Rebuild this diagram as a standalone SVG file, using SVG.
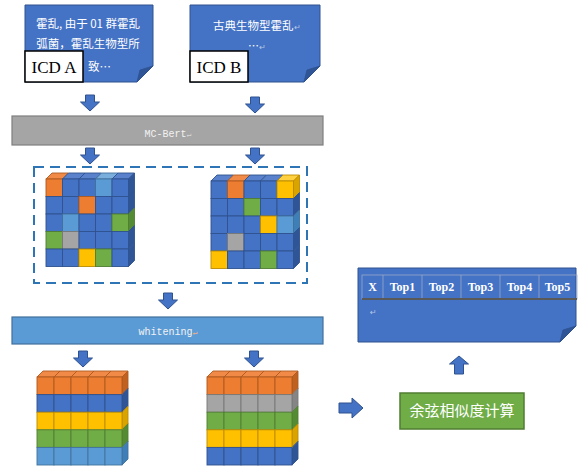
<svg xmlns="http://www.w3.org/2000/svg" xmlns:xlink="http://www.w3.org/1999/xlink" width="586" height="472" viewBox="0 0 586 472">
<style>
.note{fill:#4472c4;stroke:#2f528f;stroke-width:1}
.fold{fill:#2f5597;stroke:#2f528f;stroke-width:0.8}
.lbl{fill:#fff;stroke:#000;stroke-width:1.5}
.cn{font-family:"Noto Sans CJK SC","Noto Sans",sans-serif;fill:#fff}
.ser{font-family:"Liberation Serif","DejaVu Serif",serif}
.mono{font-family:"Liberation Mono","DejaVu Sans Mono",monospace;fill:#f2f2f2}
.rm{fill:#b4c7e7;font-size:8px}
.arr{fill:#4472c4;stroke:#2f528f;stroke-width:1}
.c rect,.c polygon{stroke-width:0.9}
.o{fill:#ed7d31;stroke:#ae5a21}.ot{fill:#f08a46;stroke:#ae5a21}.os{fill:#c0611f;stroke:#ae5a21}
.b{fill:#4472c4;stroke:#2f528f}.bt{fill:#5a82cc;stroke:#2f528f}.bs{fill:#2f5597;stroke:#2f528f}
.l{fill:#5b9bd5;stroke:#41719c}.lt{fill:#7aaedc;stroke:#41719c}.ls{fill:#3f7fb8;stroke:#41719c}
.g{fill:#70ad47;stroke:#507e32}.gt{fill:#84bb60;stroke:#507e32}.gs{fill:#548c33;stroke:#507e32}
.a{fill:#a5a5a5;stroke:#787878}.at{fill:#b8b8b8;stroke:#787878}.as{fill:#858585;stroke:#787878}
.y{fill:#ffc000;stroke:#bc8c00}.yt{fill:#ffd040;stroke:#bc8c00}.ys{fill:#d9a300;stroke:#bc8c00}
.tl{stroke:#9aa9c9;stroke-width:0.8;fill:none}
</style>
<defs>
<path id="ad" class="arr" d="M-4.5,0 H4.5 V7 H9.5 L0,16 L-9.5,7 H-4.5 Z"/>
</defs>

<g id="icdA">
<path class="note" d="M25,5 H153 V66 L137,82 H25 Z"/>
<path class="fold" d="M153,66 L137,82 L140,70 Z"/>
<text class="cn" x="88" y="28" font-size="11.5" text-anchor="middle">霍乱, 由于 01 群霍乱</text>
<text class="cn" x="88" y="48" font-size="11.5" text-anchor="middle">弧菌，霍乱生物型所</text>
<text class="cn" x="88" y="71" font-size="11.5">致…</text>
<rect class="lbl" x="25" y="51" width="58" height="31"/>
<text class="ser" x="54" y="73" font-size="17" text-anchor="middle" fill="#000">ICD A</text>
</g>

<g id="icdB">
<path class="note" d="M190,5 H320 V66 L304,82 H190 Z"/>
<path class="fold" d="M320,66 L304,82 L307,70 Z"/>
<text class="cn" x="213" y="30" font-size="11.5">古典生物型霍乱<tspan class="rm">↵</tspan></text>
<text class="cn" x="248" y="50" font-size="11">…<tspan class="rm">↵</tspan></text>
<rect class="lbl" x="190" y="51" width="58" height="31"/>
<text class="ser" x="219" y="73" font-size="17" text-anchor="middle" fill="#000">ICD B</text>
</g>

<g id="mcbert">
<rect x="12" y="116" width="311" height="29" fill="#a5a5a5" stroke="#7f7f7f" stroke-width="1.2"/>
<text class="mono" x="168" y="137" font-size="10" text-anchor="middle">MC-Bert<tspan fill="#d9d9d9" font-size="8">↵</tspan></text>
</g>

<g id="embeddings">
<rect x="34" y="167" width="273" height="116" fill="none" stroke="#2e75b6" stroke-width="2" stroke-dasharray="10,6"/>
<g id="cubeA" class="c" transform="translate(46,179)">
<polygon class="ot" points="0,0 16.5,0 22.5,-6 6,-6"/>
<polygon class="bt" points="16.5,0 33,0 39,-6 22.5,-6"/>
<polygon class="bt" points="33,0 49.5,0 55.5,-6 39,-6"/>
<polygon class="lt" points="49.5,0 66,0 72,-6 55.5,-6"/>
<polygon class="bt" points="66,0 82.5,0 88.5,-6 72,-6"/>
<polygon class="bs" points="82.5,0 88.5,-6 88.5,11.5 82.5,17.5"/>
<polygon class="bs" points="82.5,17.5 88.5,11.5 88.5,29 82.5,35"/>
<polygon class="gs" points="82.5,35 88.5,29 88.5,46.5 82.5,52.5"/>
<polygon class="bs" points="82.5,52.5 88.5,46.5 88.5,64 82.5,70"/>
<polygon class="bs" points="82.5,70 88.5,64 88.5,81.5 82.5,87.5"/>
<rect class="o" x="0" y="0" width="16.5" height="17.5"/><rect class="b" x="16.5" y="0" width="16.5" height="17.5"/><rect class="b" x="33" y="0" width="16.5" height="17.5"/><rect class="l" x="49.5" y="0" width="16.5" height="17.5"/><rect class="b" x="66" y="0" width="16.5" height="17.5"/>
<rect class="b" x="0" y="17.5" width="16.5" height="17.5"/><rect class="b" x="16.5" y="17.5" width="16.5" height="17.5"/><rect class="o" x="33" y="17.5" width="16.5" height="17.5"/><rect class="b" x="49.5" y="17.5" width="16.5" height="17.5"/><rect class="b" x="66" y="17.5" width="16.5" height="17.5"/>
<rect class="b" x="0" y="35" width="16.5" height="17.5"/><rect class="l" x="16.5" y="35" width="16.5" height="17.5"/><rect class="b" x="33" y="35" width="16.5" height="17.5"/><rect class="b" x="49.5" y="35" width="16.5" height="17.5"/><rect class="g" x="66" y="35" width="16.5" height="17.5"/>
<rect class="g" x="0" y="52.5" width="16.5" height="17.5"/><rect class="a" x="16.5" y="52.5" width="16.5" height="17.5"/><rect class="b" x="33" y="52.5" width="16.5" height="17.5"/><rect class="b" x="49.5" y="52.5" width="16.5" height="17.5"/><rect class="b" x="66" y="52.5" width="16.5" height="17.5"/>
<rect class="b" x="0" y="70" width="16.5" height="17.5"/><rect class="b" x="16.5" y="70" width="16.5" height="17.5"/><rect class="y" x="33" y="70" width="16.5" height="17.5"/><rect class="g" x="49.5" y="70" width="16.5" height="17.5"/><rect class="b" x="66" y="70" width="16.5" height="17.5"/>
</g>
<g id="cubeB" class="c" transform="translate(211,181)">
<polygon class="bt" points="0,0 16.5,0 22.5,-6 6,-6"/>
<polygon class="ot" points="16.5,0 33,0 39,-6 22.5,-6"/>
<polygon class="bt" points="33,0 49.5,0 55.5,-6 39,-6"/>
<polygon class="bt" points="49.5,0 66,0 72,-6 55.5,-6"/>
<polygon class="yt" points="66,0 82.5,0 88.5,-6 72,-6"/>
<polygon class="ys" points="82.5,0 88.5,-6 88.5,11.5 82.5,17.5"/>
<polygon class="bs" points="82.5,17.5 88.5,11.5 88.5,29 82.5,35"/>
<polygon class="ls" points="82.5,35 88.5,29 88.5,46.5 82.5,52.5"/>
<polygon class="bs" points="82.5,52.5 88.5,46.5 88.5,64 82.5,70"/>
<polygon class="bs" points="82.5,70 88.5,64 88.5,81.5 82.5,87.5"/>
<rect class="b" x="0" y="0" width="16.5" height="17.5"/><rect class="o" x="16.5" y="0" width="16.5" height="17.5"/><rect class="b" x="33" y="0" width="16.5" height="17.5"/><rect class="b" x="49.5" y="0" width="16.5" height="17.5"/><rect class="y" x="66" y="0" width="16.5" height="17.5"/>
<rect class="b" x="0" y="17.5" width="16.5" height="17.5"/><rect class="b" x="16.5" y="17.5" width="16.5" height="17.5"/><rect class="g" x="33" y="17.5" width="16.5" height="17.5"/><rect class="b" x="49.5" y="17.5" width="16.5" height="17.5"/><rect class="b" x="66" y="17.5" width="16.5" height="17.5"/>
<rect class="b" x="0" y="35" width="16.5" height="17.5"/><rect class="b" x="16.5" y="35" width="16.5" height="17.5"/><rect class="b" x="33" y="35" width="16.5" height="17.5"/><rect class="y" x="49.5" y="35" width="16.5" height="17.5"/><rect class="l" x="66" y="35" width="16.5" height="17.5"/>
<rect class="b" x="0" y="52.5" width="16.5" height="17.5"/><rect class="a" x="16.5" y="52.5" width="16.5" height="17.5"/><rect class="b" x="33" y="52.5" width="16.5" height="17.5"/><rect class="b" x="49.5" y="52.5" width="16.5" height="17.5"/><rect class="b" x="66" y="52.5" width="16.5" height="17.5"/>
<rect class="y" x="0" y="70" width="16.5" height="17.5"/><rect class="b" x="16.5" y="70" width="16.5" height="17.5"/><rect class="b" x="33" y="70" width="16.5" height="17.5"/><rect class="g" x="49.5" y="70" width="16.5" height="17.5"/><rect class="b" x="66" y="70" width="16.5" height="17.5"/>
</g>
</g>

<g id="whitening">
<rect x="12" y="317" width="311" height="27" fill="#5b9bd5" stroke="#41719c" stroke-width="1.2"/>
<text class="mono" x="168" y="335" font-size="10" text-anchor="middle">whitening<tspan fill="#f4b183" font-size="8">↵</tspan></text>
</g>

<g id="stackA" class="c" transform="translate(37,377)">
<polygon class="ot" points="0,0 17,0 23,-6 6,-6"/><polygon class="ot" points="17,0 34,0 40,-6 23,-6"/><polygon class="ot" points="34,0 51,0 57,-6 40,-6"/><polygon class="ot" points="51,0 68,0 74,-6 57,-6"/><polygon class="ot" points="68,0 85,0 91,-6 74,-6"/>
<polygon class="os" points="85,0 91,-6 91,11.6 85,17.6"/>
<polygon class="bs" points="85,17.6 91,11.6 91,29.2 85,35.2"/>
<polygon class="ys" points="85,35.2 91,29.2 91,46.8 85,52.8"/>
<polygon class="gs" points="85,52.8 91,46.8 91,64.4 85,70.4"/>
<polygon class="ls" points="85,70.4 91,64.4 91,82 85,88"/>
<rect class="o" x="0" y="0" width="17" height="17.6"/><rect class="o" x="17" y="0" width="17" height="17.6"/><rect class="o" x="34" y="0" width="17" height="17.6"/><rect class="o" x="51" y="0" width="17" height="17.6"/><rect class="o" x="68" y="0" width="17" height="17.6"/>
<rect class="b" x="0" y="17.6" width="17" height="17.6"/><rect class="b" x="17" y="17.6" width="17" height="17.6"/><rect class="b" x="34" y="17.6" width="17" height="17.6"/><rect class="b" x="51" y="17.6" width="17" height="17.6"/><rect class="b" x="68" y="17.6" width="17" height="17.6"/>
<rect class="y" x="0" y="35.2" width="17" height="17.6"/><rect class="y" x="17" y="35.2" width="17" height="17.6"/><rect class="y" x="34" y="35.2" width="17" height="17.6"/><rect class="y" x="51" y="35.2" width="17" height="17.6"/><rect class="y" x="68" y="35.2" width="17" height="17.6"/>
<rect class="g" x="0" y="52.8" width="17" height="17.6"/><rect class="g" x="17" y="52.8" width="17" height="17.6"/><rect class="g" x="34" y="52.8" width="17" height="17.6"/><rect class="g" x="51" y="52.8" width="17" height="17.6"/><rect class="g" x="68" y="52.8" width="17" height="17.6"/>
<rect class="l" x="0" y="70.4" width="17" height="17.6"/><rect class="l" x="17" y="70.4" width="17" height="17.6"/><rect class="l" x="34" y="70.4" width="17" height="17.6"/><rect class="l" x="51" y="70.4" width="17" height="17.6"/><rect class="l" x="68" y="70.4" width="17" height="17.6"/>
</g>

<g id="stackB" class="c" transform="translate(207,377)">
<polygon class="ot" points="0,0 17,0 23,-6 6,-6"/><polygon class="ot" points="17,0 34,0 40,-6 23,-6"/><polygon class="ot" points="34,0 51,0 57,-6 40,-6"/><polygon class="ot" points="51,0 68,0 74,-6 57,-6"/><polygon class="ot" points="68,0 85,0 91,-6 74,-6"/>
<polygon class="os" points="85,0 91,-6 91,11.6 85,17.6"/>
<polygon class="as" points="85,17.6 91,11.6 91,29.2 85,35.2"/>
<polygon class="gs" points="85,35.2 91,29.2 91,46.8 85,52.8"/>
<polygon class="ys" points="85,52.8 91,46.8 91,64.4 85,70.4"/>
<polygon class="bs" points="85,70.4 91,64.4 91,82 85,88"/>
<rect class="o" x="0" y="0" width="17" height="17.6"/><rect class="o" x="17" y="0" width="17" height="17.6"/><rect class="o" x="34" y="0" width="17" height="17.6"/><rect class="o" x="51" y="0" width="17" height="17.6"/><rect class="o" x="68" y="0" width="17" height="17.6"/>
<rect class="a" x="0" y="17.6" width="17" height="17.6"/><rect class="a" x="17" y="17.6" width="17" height="17.6"/><rect class="a" x="34" y="17.6" width="17" height="17.6"/><rect class="a" x="51" y="17.6" width="17" height="17.6"/><rect class="a" x="68" y="17.6" width="17" height="17.6"/>
<rect class="g" x="0" y="35.2" width="17" height="17.6"/><rect class="g" x="17" y="35.2" width="17" height="17.6"/><rect class="g" x="34" y="35.2" width="17" height="17.6"/><rect class="g" x="51" y="35.2" width="17" height="17.6"/><rect class="g" x="68" y="35.2" width="17" height="17.6"/>
<rect class="y" x="0" y="52.8" width="17" height="17.6"/><rect class="y" x="17" y="52.8" width="17" height="17.6"/><rect class="y" x="34" y="52.8" width="17" height="17.6"/><rect class="y" x="51" y="52.8" width="17" height="17.6"/><rect class="y" x="68" y="52.8" width="17" height="17.6"/>
<rect class="b" x="0" y="70.4" width="17" height="17.6"/><rect class="b" x="17" y="70.4" width="17" height="17.6"/><rect class="b" x="34" y="70.4" width="17" height="17.6"/><rect class="b" x="51" y="70.4" width="17" height="17.6"/><rect class="b" x="68" y="70.4" width="17" height="17.6"/>
</g>

<g id="cosine">
<rect x="400" y="393" width="124" height="36" fill="#70ad47" stroke="#507e32" stroke-width="1.5"/>
<text class="cn" x="462" y="416" font-size="15" text-anchor="middle" fill="#f2f2f2">余弦相似度计算</text>
</g>

<g id="result">
<path class="note" d="M358,268 H576 V326 L560,342 H358 Z"/>
<path class="fold" d="M576,326 L560,342 L563,330 Z"/>
<rect x="362" y="275" width="215" height="24" class="tl"/>
<path class="tl" d="M383,275 V299 M422,275 V299 M461,275 V299 M500,275 V299 M539,275 V299"/>
<line x1="362" y1="299" x2="577" y2="299" stroke="#595959" stroke-width="2"/>
<g class="ser" font-size="12" fill="#fff" text-anchor="middle" font-weight="bold">
<text x="372.5" y="291">X</text>
<text x="402.5" y="291">Top1</text>
<text x="441.5" y="291">Top2</text>
<text x="480.5" y="291">Top3</text>
<text x="519.5" y="291">Top4</text>
<text x="557.5" y="291">Top5</text>
</g>
<text x="370" y="315" class="rm" font-family="DejaVu Sans,sans-serif">↵</text>
</g>

<g id="connectors">
<use xlink:href="#ad" x="90" y="95"/>
<use xlink:href="#ad" x="255" y="97"/>
<use xlink:href="#ad" x="90" y="148"/>
<use xlink:href="#ad" x="255" y="148"/>
<use xlink:href="#ad" x="168" y="293"/>
<use xlink:href="#ad" x="83" y="351"/>
<use xlink:href="#ad" x="254" y="351"/>
<path class="arr" d="M339,403 H352 V398 L363,408 L352,418 V413 H339 Z"/>
<path class="arr" d="M454.5,374 H463.5 V364 H468.5 L459,356 L449.5,364 H454.5 Z"/>
</g>
</svg>
